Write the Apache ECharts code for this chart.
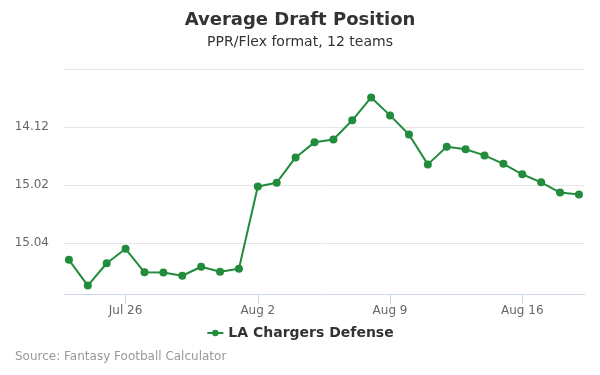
<!DOCTYPE html>
<html>
<head>
<meta charset="utf-8">
<script src="https://cdn.jsdelivr.net/npm/echarts@6/dist/echarts.min.js"></script>
<style>
  html, body { margin: 0; padding: 0; background: #fff; }
  #chart { width: 600px; height: 375px; }
</style>
</head>
<body>
<div id="chart"></div>
<script>
// one entry per day, Jul 23 .. Aug 19
var dates = ['Jul 23','Jul 24','Jul 25','Jul 26','Jul 27','Jul 28','Jul 29','Jul 30','Jul 31','Aug 1',
             'Aug 2','Aug 3','Aug 4','Aug 5','Aug 6','Aug 7','Aug 8','Aug 9','Aug 10','Aug 11',
             'Aug 12','Aug 13','Aug 14','Aug 15','Aug 16','Aug 17','Aug 18','Aug 19'];
// overall pick number (12 teams)
var adp = [172.58, 173.47, 172.70, 172.20, 173.01, 173.02, 173.13, 172.82, 172.99, 172.89,
           170.05, 169.92, 169.05, 168.53, 168.43, 167.77, 166.98, 167.60, 168.26, 169.29,
           168.68, 168.77, 168.98, 169.27, 169.63, 169.91, 170.26, 170.33];
var labelDays = [3, 10, 17, 24];
var seriesName = 'LA Chargers Defense';

function pickLabel(v) {
  if (Math.abs(v - Math.round(v)) > 0.001 || v <= 166) return '';
  var r = Math.floor((v - 1) / 12) + 1;
  var p = ((v - 1) % 12) + 1;
  return r + '.' + (p < 10 ? '0' + p : p);
}

var points = adp.map(function (v, i) { return [i, v]; });

var option = {
  animation: false,
  title: [{
    text: 'Average Draft Position',
    left: 'center', top: 6,
    textStyle: { fontFamily: 'DejaVu Sans', fontSize: 18, fontWeight: 'bold', color: '#333' }
  }, {
    text: 'PPR/Flex format, 12 teams',
    left: 'center', top: 30,
    textStyle: { fontFamily: 'DejaVu Sans', fontSize: 14, fontWeight: 'normal', color: '#333' }
  }, {
    text: 'Source: Fantasy Football Calculator',
    left: 10, top: 346,
    textStyle: { fontFamily: 'DejaVu Sans', fontSize: 12, fontWeight: 'normal', color: '#999' }
  }],
  legend: {
    data: [seriesName],
    bottom: 30,
    left: 'center',
    itemWidth: 16, itemHeight: 8,
    textStyle: { fontFamily: 'DejaVu Sans', fontSize: 14, fontWeight: 'bold', color: '#333' }
  },
  grid: { left: 64, right: 15, top: 69, bottom: 81 },
  xAxis: {
    type: 'value',
    min: -0.26, max: 27.32,
    axisLine: { show: true, lineStyle: { color: '#ccd6eb' } },
    axisTick: { show: true, customValues: labelDays, length: 10, lineStyle: { color: '#ccd6eb' } },
    splitLine: { show: false },
    axisLabel: {
      customValues: labelDays,
      formatter: function (v) { return dates[Math.round(v)]; },
      color: '#666', fontSize: 12, fontFamily: 'DejaVu Sans', margin: 11
    }
  },
  yAxis: {
    type: 'value',
    inverse: true,
    min: 166, max: 173.76, interval: 2,
    axisLine: { show: false },
    axisTick: { show: false },
    splitLine: { lineStyle: { color: '#e6e6e6' } },
    axisLabel: {
      formatter: pickLabel,
      color: '#666', fontSize: 12, fontFamily: 'DejaVu Sans', margin: 15
    }
  },
  series: [{
    name: seriesName,
    type: 'line',
    data: points,
    color: '#218c3c',
    symbol: 'circle',
    symbolSize: 8,
    lineStyle: { width: 2 }
  }]
};

var myChart = echarts.init(document.getElementById('chart'));
myChart.setOption(option);
</script>
</body>
</html>
